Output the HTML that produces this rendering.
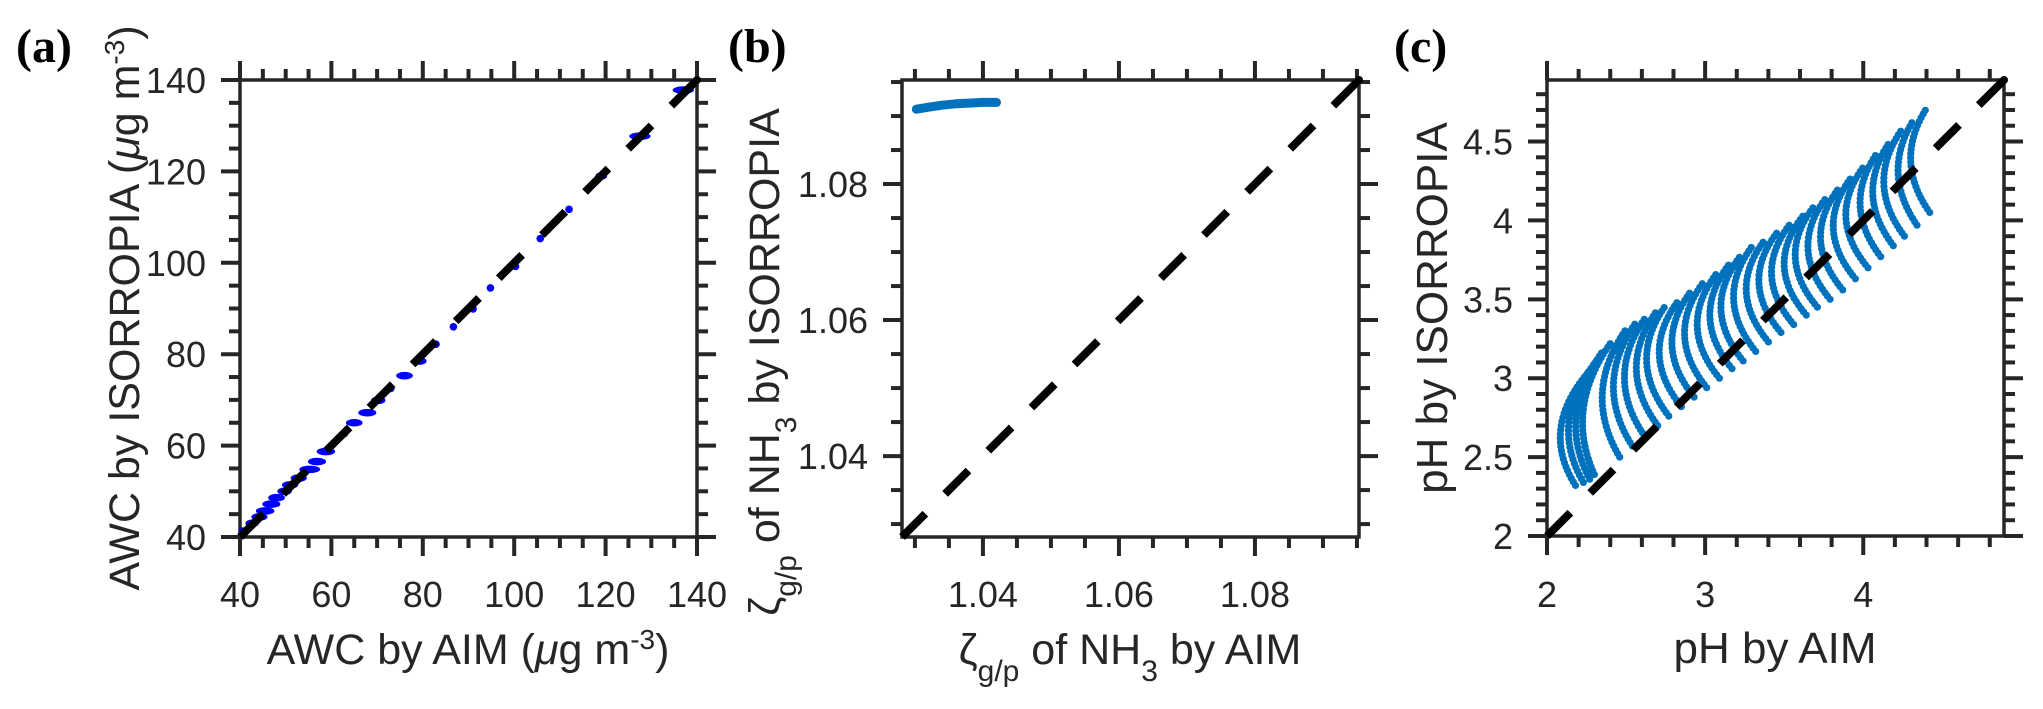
<!DOCTYPE html>
<html><head><meta charset="utf-8"><title>AIM vs ISORROPIA comparison</title>
<style>
html,body{margin:0;padding:0;background:#fff;}
svg{display:block;}
text{font-family:"Liberation Sans",Arial,sans-serif;fill:#262626;}
.lbl{font-family:"Liberation Serif","Times New Roman",serif;font-weight:bold;fill:#000;}
</style></head>
<body>
<svg id="fig" width="2043" height="709" viewBox="0 0 2043 709" xmlns="http://www.w3.org/2000/svg">
  <text class="lbl" x="16" y="62" font-size="48">(a)</text>
  <text class="lbl" x="728" y="62" font-size="48">(b)</text>
  <text class="lbl" x="1394" y="62" font-size="48">(c)</text>

  <text x="468" y="664" font-size="43" text-anchor="middle">AWC by AIM (<tspan font-style="italic">μ</tspan>g m<tspan baseline-shift="super" font-size="28">-3</tspan>)</text>
  <text transform="translate(139,308) rotate(-90)" font-size="43" text-anchor="middle">AWC by ISORROPIA (<tspan font-style="italic">μ</tspan>g m<tspan baseline-shift="super" font-size="28">-3</tspan>)</text>
  <text x="1130" y="664" font-size="43" text-anchor="middle">ζ<tspan baseline-shift="sub" font-size="30">g/p</tspan> of NH<tspan baseline-shift="sub" font-size="30">3</tspan> by AIM</text>
  <text transform="translate(779,362) rotate(-90)" font-size="43" text-anchor="middle">ζ<tspan baseline-shift="sub" font-size="30">g/p</tspan> of NH<tspan baseline-shift="sub" font-size="30">3</tspan> by ISORROPIA</text>
  <text x="1775" y="663" font-size="44" text-anchor="middle">pH by AIM</text>
  <text transform="translate(1447,308) rotate(-90)" font-size="44" text-anchor="middle">pH by ISORROPIA</text>
</svg>
<script>
const aXStart = [40.5,42,43.3,44.3,45.7,47,49,50,51.9,53.8,55.7,57.6,60.5,62.9,64,66.7,69.5,73,75,78.6,82.9,86.7,91,94.8,100.3,105.7,112,118.6,126,135.5];
const aXEnd   = [40.5,43.3,45.2,46.7,48,49,50.5,51.9,53.8,56.7,58,60,60.5,62.9,66,69,71,73,77,80,82.9,86.7,91,94.8,100.3,105.7,112,119.5,129,138.5];
const aY      = [41.3,43,44.4,45.7,47.2,48.6,50,51.4,52.9,54.8,56.5,58.7,60.5,62.7,65,67.2,69.9,72.5,75.3,78.5,82.2,86,89.9,94.5,99.2,105.3,111.7,119,127.7,137.8];
const aTicks  = [40,60,80,100,120,140];

const bX = [1.0302,1.032,1.034,1.036,1.038,1.040,1.042];
const bY = [1.0910,1.0913,1.0916,1.0918,1.0919,1.0920,1.0920];
const bTicks = [1.04,1.06,1.08];
const bTickLabels = ["1.04","1.06","1.08"];

const cBottomX = [2.18,2.23,2.27,2.30, 2.46,2.54,2.62,2.70,2.77,2.85,2.93,3.01,3.09,3.17,3.24,3.32,3.40,3.48,3.56,3.64,3.71,3.79,3.87,3.95,4.03,4.11,4.19,4.26,4.34,4.42];
const cBottomY = [2.32,2.34,2.36,2.39, 2.50,2.57,2.63,2.70,2.76,2.82,2.88,2.94,3.00,3.06,3.11,3.17,3.23,3.29,3.34,3.40,3.45,3.50,3.56,3.63,3.70,3.77,3.84,3.90,3.97,4.05];
const cTopX    = [2.30,2.33,2.36,2.40, 2.50,2.56,2.62,2.69,2.75,2.83,2.91,2.99,3.07,3.15,3.22,3.30,3.38,3.46,3.54,3.62,3.69,3.77,3.85,3.93,4.01,4.09,4.17,4.24,4.32,4.40];
const cTopY    = [3.08,3.13,3.18,3.22, 3.31,3.35,3.38,3.42,3.46,3.49,3.55,3.61,3.66,3.72,3.77,3.84,3.88,3.93,3.98,4.03,4.09,4.15,4.21,4.28,4.35,4.43,4.50,4.57,4.64,4.71];
const cBulge   = [0.15,0.14,0.13,0.12, 0.13,0.13,0.13,0.13,0.13,0.13,0.13,0.13,0.13,0.13,0.13,0.13,0.13,0.13,0.13,0.13,0.13,0.13,0.13,0.13,0.13,0.12,0.12,0.12,0.11,0.11];
const cXTicks = [2,3,4];
const cYTicks = [2,2.5,3,3.5,4,4.5];
const cYTickLabels = ["2","2.5","3","3.5","4","4.5"];

const NS = "http://www.w3.org/2000/svg";
const svg = document.getElementById('fig');
const AX = '#262626';

function el(tag, attrs, parent){
  const e = document.createElementNS(NS, tag);
  for (const k in attrs) e.setAttribute(k, attrs[k]);
  (parent||svg).appendChild(e);
  return e;
}

function makePanel(p){
  p.sx = v => p.x0 + (v - p.xmin) / (p.xmax - p.xmin) * p.w;
  p.sy = v => p.y0 + p.h - (v - p.ymin) / (p.ymax - p.ymin) * p.h;
  return p;
}

function drawAxes(p, name, xMajor, xLabels, yMajor, yLabels, xMinorStep, yMinorStep){
  const g = el('g', {});
  
  
  const eps = 1e-9;
  let start = Math.ceil((p.xmin - eps) / xMinorStep) * xMinorStep;
  for (let v = start; v <= p.xmax + eps; v += xMinorStep){
    const major = xMajor.some(m => Math.abs(m - v) < xMinorStep / 10);
    const L = major ? 19 : 11;
    const x = p.sx(v);
    const t1 = el('line', {x1:x, y1:p.y0+p.h, x2:x, y2:p.y0+p.h+L, stroke:AX, 'stroke-width':4}, g);
    
    
    const t2 = el('line', {x1:x, y1:p.y0, x2:x, y2:p.y0-L, stroke:AX, 'stroke-width':4}, g);
    
    
  }
  start = Math.ceil((p.ymin - eps) / yMinorStep) * yMinorStep;
  for (let v = start; v <= p.ymax + eps; v += yMinorStep){
    const major = yMajor.some(m => Math.abs(m - v) < yMinorStep / 10);
    const L = major ? 19 : 11;
    const y = p.sy(v);
    const t1 = el('line', {x1:p.x0, y1:y, x2:p.x0-L, y2:y, stroke:AX, 'stroke-width':4}, g);
    
    
    const t2 = el('line', {x1:p.x0+p.w, y1:y, x2:p.x0+p.w+L, y2:y, stroke:AX, 'stroke-width':4}, g);
    
    
  }
  const fr = el('rect', {x:p.x0, y:p.y0, width:p.w, height:p.h, fill:'none', stroke:AX, 'stroke-width':3.5}, g);
  
  
  xMajor.forEach((v,i) => {
    const t = el('text', {x:p.sx(v), y:607, 'font-size':36, 'text-anchor':'middle'}, g);
    
    
    t.textContent = xLabels[i];
  });
  yMajor.forEach((v,i) => {
    const t = el('text', {x:p.x0-34, y:p.sy(v)+13, 'font-size':36, 'text-anchor':'end'}, g);
    
    
    t.textContent = yLabels[i];
  });
}

function drawDiag(p, name){
  const lo = Math.max(p.xmin, p.ymin), hi = Math.min(p.xmax, p.ymax);
  const l = el('line', {x1:p.sx(lo), y1:p.sy(lo), x2:p.sx(hi), y2:p.sy(hi), stroke:'#000', 'stroke-width':8, 'stroke-dasharray':'33 28'});
  
  
  const d = el('circle', {cx:p.sx(hi), cy:p.sy(hi), r:4, fill:'#000'});
  
  
}

const pa = makePanel({x0:240, y0:80, w:457, h:457, xmin:40, xmax:140, ymin:40, ymax:140});
drawAxes(pa, 'panel-a', aTicks, aTicks.map(String), aTicks, aTicks.map(String), 5, 5);
aY.forEach((y,i) => {
  const x1 = pa.sx(aXStart[i]), x2 = pa.sx(aXEnd[i]);
  const e = el('ellipse', {cx:(x1+x2)/2, cy:pa.sy(y), rx:(x2-x1)/2+3.8, ry:3.8, fill:'#0000ff'});
  
  
});
drawDiag(pa, 'panel-a');

const pb = makePanel({x0:902, y0:80, w:457, h:457, xmin:1.0281, xmax:1.0953, ymin:1.0281, ymax:1.0953});
drawAxes(pb, 'panel-b', bTicks, bTickLabels, bTicks, bTickLabels, 0.005, 0.005);
const bPath = bX.map((x,i) => (i ? 'L' : 'M') + pb.sx(x).toFixed(1) + ' ' + pb.sy(bY[i]).toFixed(1)).join(' ');
const bl = el('path', {d:bPath, fill:'none', stroke:'#0072BD', 'stroke-width':9, 'stroke-linecap':'round', 'stroke-linejoin':'round'});


drawDiag(pb, 'panel-b');

const pc = makePanel({x0:1547, y0:80, w:457, h:456, xmin:2, xmax:4.89, ymin:2, ymax:4.89});
drawAxes(pc, 'panel-c', cXTicks, cXTicks.map(String), cYTicks, cYTickLabels, 0.2, 0.1);
cBottomX.forEach((bx,i) => {
  const x1 = pc.sx(bx), y1 = pc.sy(cBottomY[i]);
  const x2 = pc.sx(cTopX[i]), y2 = pc.sy(cTopY[i]);
  const cx = pc.sx((bx + cTopX[i]) / 2 - 2 * cBulge[i]);
  const cy = pc.sy((cBottomY[i] + cTopY[i]) / 2);
  const a = el('path', {d:`M${x1.toFixed(1)} ${y1.toFixed(1)} Q${cx.toFixed(1)} ${cy.toFixed(1)} ${x2.toFixed(1)} ${y2.toFixed(1)}`,
    fill:'none', stroke:'#0072BD', 'stroke-width':7.2, 'stroke-linecap':'round', 'stroke-dasharray':'0 4.2'});
  
  
});
drawDiag(pc, 'panel-c');
</script>
</body></html>
